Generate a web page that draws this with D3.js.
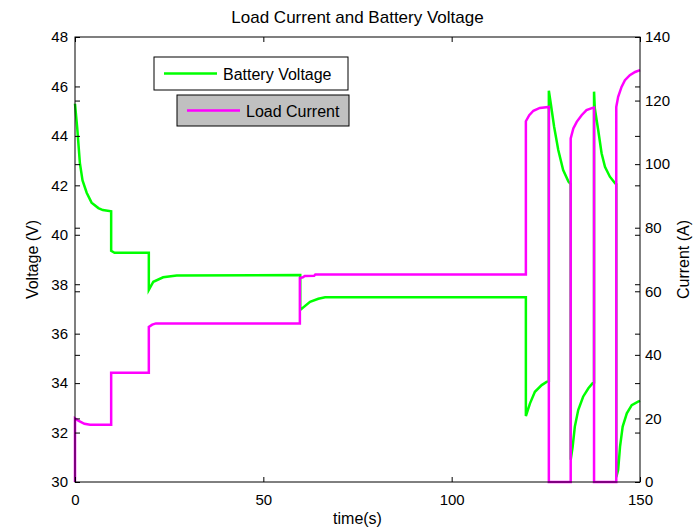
<!DOCTYPE html>
<html>
<head>
<meta charset="utf-8">
<script src="https://cdn.jsdelivr.net/npm/d3@7"></script>
<style>
  body { margin: 0; background: #fff; }
  text { font-family: "Liberation Sans", Arial, sans-serif; fill: #000; }
</style>
</head>
<body>
<div class="canva"></div>
<script>
// daten
const voltTime = [0, 0.3, 0.6, 0.9, 1.3, 2.0, 3.1, 4.4, 6.2, 7.4, 9.6, 9.6, 10.5, 19.6, 19.6, 20.8, 23.4, 27, 59.8, 59.8, 62.4, 64.6, 66.4,
  119.7, 119.7, 120.8, 122.1, 123.9, 125.2, 125.8, 125.8, 126.3, 127.2, 128.3, 129.6, 131.0, 131.6, 131.6, 132.1, 132.7, 133.6, 134.9, 136.3, 137.4, 137.8,
  137.8, 138.0, 138.9, 139.8, 140.7, 142.0, 143.4, 143.7, 143.7, 144.2, 144.7, 145.4, 146.5, 147.8, 149.5, 150];
const voltage = [45.3, 44.8, 44.3, 43.7, 42.9, 42.2, 41.7, 41.3, 41.08, 41.0, 40.95, 39.35, 39.27, 39.27, 37.77, 38.1, 38.28, 38.35, 38.37, 36.96, 37.29, 37.41, 37.47,
  37.47, 32.67, 33.18, 33.65, 33.92, 34.05, 34.08, 45.83, 45.32, 44.37, 43.43, 42.62, 42.15, 42.05, 30.9, 31.4, 32.24, 32.91, 33.45, 33.79, 33.99, 34.02,
  45.79, 45.12, 44.24, 43.3, 42.75, 42.35, 42.08, 42.05, 30.2, 30.48, 31.43, 32.24, 32.78, 33.11, 33.25, 33.28];

const currTime = [0, 0, 1, 2.5, 4, 9.6, 9.6, 19.6, 19.6, 20.5, 21.5, 59.7, 59.7, 60.5, 61, 63.5, 63.8, 119.7, 119.7, 120.6, 121.7, 123.4, 125.8, 125.8,
  131.6, 131.6, 132.3, 133.2, 134.5, 135.8, 137.4, 137.8, 137.8, 143.7, 143.7, 144.2, 145.1, 146, 147.3, 148.7, 150];
const current = [0, 20, 19.2, 18.3, 18, 18, 34.4, 34.4, 48.8, 49.5, 49.9, 49.9, 64.2, 64.4, 64.8, 64.9, 65.3, 65.3, 113.5, 115.4, 116.8, 117.7, 118, 0,
  0, 108.1, 111.2, 113.3, 115.4, 117, 117.7, 117.8, 0, 0, 118, 121.2, 124.3, 126.4, 128, 129, 129.6];

const xTicks = [0, 50, 100, 150];
const voltTicks = [30, 32, 34, 36, 38, 40, 42, 44, 46, 48];
const currTicks = [0, 20, 40, 60, 80, 100, 120, 140];

const svg = d3.select('.canva').append('svg')
  .attr('width', 694)
  .attr('height', 528);

// plotbereich (top ist im browser schon vergeben)
const pLeft = 75, pRight = 640, pTop = 37, pBottom = 482;

const x = d3.scaleLinear().domain([0, 150]).range([pLeft, pRight]);
const yV = d3.scaleLinear().domain([30, 48]).range([pBottom, pTop]);
const yA = d3.scaleLinear().domain([0, 140]).range([pBottom, pTop]);

// titel
svg.append('text')
  .attr('x', (pLeft + pRight) / 2)
  .attr('y', 23)
  .attr('text-anchor', 'middle')
  .style('font-size', '17px')
  .text('Load Current and Battery Voltage');

// kurven
const lineV = d3.line().x((d, i) => x(voltTime[i])).y(d => yV(d));
const lineA = d3.line().x((d, i) => x(currTime[i])).y(d => yA(d));

svg.append('path')
  .attr('d', lineV(voltage))
  .attr('fill', 'none')
  .attr('stroke', '#00ff00')
  .attr('stroke-width', 2.5);

svg.append('path')
  .attr('d', lineA(current))
  .attr('fill', 'none')
  .attr('stroke', '#ff00ff')
  .attr('stroke-width', 2.5);

// rahmen
svg.append('rect')
  .attr('x', pLeft).attr('y', pTop)
  .attr('width', pRight - pLeft).attr('height', pBottom - pTop)
  .attr('fill', 'none')
  .attr('stroke', '#000')
  .attr('stroke-width', 1);

// achsen, ticks nach innen
svg.append('g')
  .attr('transform', `translate(0,${pBottom})`)
  .call(d3.axisBottom(x).tickValues(xTicks).tickSize(-5).tickPadding(12).tickFormat(d3.format('d')));
svg.append('g')
  .attr('transform', `translate(0,${pTop})`)
  .call(d3.axisTop(x).tickValues(xTicks).tickSize(-5).tickFormat(''));

svg.append('g')
  .attr('transform', `translate(${pLeft},0)`)
  .call(d3.axisLeft(yV).tickValues(voltTicks).tickSize(-5).tickPadding(7));
svg.append('g')
  .attr('transform', `translate(${pRight},0)`)
  .call(d3.axisRight(yV).tickValues(voltTicks).tickSize(-5).tickFormat(''));

svg.append('g')
  .attr('transform', `translate(${pRight},0)`)
  .call(d3.axisRight(yA).tickValues(currTicks).tickSize(-5).tickPadding(5));
svg.append('g')
  .attr('transform', `translate(${pLeft},0)`)
  .call(d3.axisLeft(yA).tickValues(currTicks).tickSize(-5).tickFormat(''));

svg.selectAll('.domain').remove();
svg.selectAll('.tick line').attr('stroke', '#000');
svg.selectAll('.tick text')
  .style('font-family', '"Liberation Sans", Arial, sans-serif')
  .style('font-size', '15px')
  .attr('fill', '#000');

// achsenbeschriftungen
svg.append('text')
  .attr('x', (pLeft + pRight) / 2)
  .attr('y', 524)
  .attr('text-anchor', 'middle')
  .style('font-size', '16px')
  .text('time(s)');

svg.append('text')
  .attr('transform', `translate(38,${(pTop + pBottom) / 2}) rotate(-90)`)
  .attr('text-anchor', 'middle')
  .style('font-size', '16px')
  .text('Voltage (V)');

svg.append('text')
  .attr('transform', `translate(689,${(pTop + pBottom) / 2}) rotate(-90)`)
  .attr('text-anchor', 'middle')
  .style('font-size', '16px')
  .text('Current (A)');

// legenden
const legends = [
  { name: 'Battery Voltage', color: '#00ff00', fill: '#ffffff', x0: 154, y0: 57, w: 194, h: 33 },
  { name: 'Load Current', color: '#ff00ff', fill: '#c0c0c0', x0: 177, y0: 95, w: 172, h: 31 }
];

const leg = svg.selectAll('g.legend')
  .data(legends)
  .enter()
  .append('g')
  .attr('class', 'legend');

leg.append('rect')
  .attr('x', d => d.x0).attr('y', d => d.y0)
  .attr('width', d => d.w).attr('height', d => d.h)
  .attr('fill', d => d.fill)
  .attr('stroke', '#000');

leg.append('line')
  .attr('x1', d => d.x0 + 10).attr('x2', d => d.x0 + 63)
  .attr('y1', d => d.y0 + d.h / 2).attr('y2', d => d.y0 + d.h / 2)
  .attr('stroke', d => d.color)
  .attr('stroke-width', 2.5);

leg.append('text')
  .attr('x', d => d.x0 + 69)
  .attr('y', d => d.y0 + d.h / 2 + 6)
  .style('font-size', '16px')
  .text(d => d.name);
</script>
</body>
</html>
